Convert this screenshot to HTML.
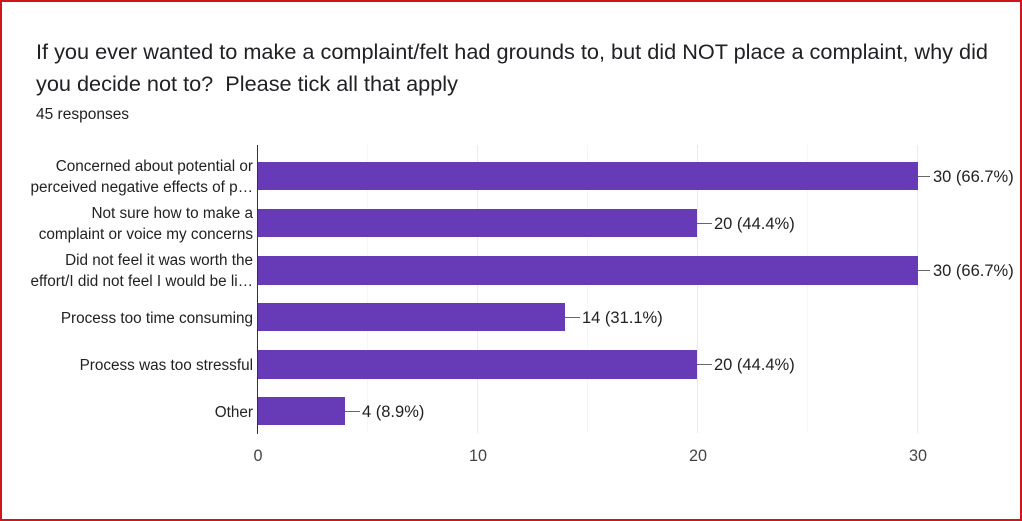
<!DOCTYPE html>
<html><head><style>
html,body{margin:0;padding:0;background:#fff}
svg{display:block}
text{font-family:"Liberation Sans",Arial,sans-serif}
</style></head><body>
<svg width="1022" height="521" viewBox="0 0 1022 521">
<rect x="1" y="1" width="1020" height="519" fill="#fff" stroke="#d0161b" stroke-width="2"/>
<text x="36" y="59" font-size="21.7" fill="#202124" xml:space="preserve">If you ever wanted to make a complaint/felt had grounds to, but did NOT place a complaint, why did</text>
<text x="36" y="91" font-size="21.7" fill="#202124" xml:space="preserve">you decide not to?  Please tick all that apply</text>
<text x="36" y="119" font-size="15.5" fill="#202124">45 responses</text>
<g stroke="#ebebeb" stroke-width="1">
<line x1="477.5" y1="145" x2="477.5" y2="433"/>
<line x1="697.5" y1="145" x2="697.5" y2="433"/>
<line x1="917.5" y1="145" x2="917.5" y2="433"/>
<line x1="367.5" y1="145" x2="367.5" y2="433" stroke="#f6f6f6"/>
<line x1="587.5" y1="145" x2="587.5" y2="433" stroke="#f6f6f6"/>
<line x1="807.5" y1="145" x2="807.5" y2="433" stroke="#f6f6f6"/>
</g>
<g fill="#673ab7">
<rect x="257" y="162" width="661" height="28"/>
<rect x="257" y="209" width="440" height="28"/>
<rect x="257" y="256" width="661" height="29"/>
<rect x="257" y="303" width="308" height="28"/>
<rect x="257" y="350" width="440" height="29"/>
<rect x="257" y="397" width="88" height="28"/>
</g>
<line x1="257.5" y1="145" x2="257.5" y2="434" stroke="#333" stroke-width="1"/>
<g stroke="#666" stroke-width="1">
<line x1="918" y1="176.5" x2="930" y2="176.5"/>
<line x1="697" y1="223.5" x2="712" y2="223.5"/>
<line x1="918" y1="270.5" x2="930" y2="270.5"/>
<line x1="565" y1="317.5" x2="580" y2="317.5"/>
<line x1="697" y1="364.5" x2="712" y2="364.5"/>
<line x1="345" y1="411.5" x2="360" y2="411.5"/>
</g>
<g font-size="16.5" fill="#222">
<text x="933" y="182">30 (66.7%)</text>
<text x="714" y="229">20 (44.4%)</text>
<text x="933" y="276">30 (66.7%)</text>
<text x="582" y="323">14 (31.1%)</text>
<text x="714" y="370">20 (44.4%)</text>
<text x="362" y="417">4 (8.9%)</text>
</g>
<g font-size="15.3" fill="#222" text-anchor="end">
<text x="253" y="171">Concerned about potential or</text>
<text x="253" y="192">perceived negative effects of p…</text>
<text x="253" y="218">Not sure how to make a</text>
<text x="253" y="239">complaint or voice my concerns</text>
<text x="253" y="265">Did not feel it was worth the</text>
<text x="253" y="286">effort/I did not feel I would be li…</text>
<text x="253" y="323">Process too time consuming</text>
<text x="253" y="370">Process was too stressful</text>
<text x="253" y="417">Other</text>
</g>
<g font-size="16.2" fill="#444" text-anchor="middle">
<text x="258" y="461">0</text>
<text x="478" y="461">10</text>
<text x="698" y="461">20</text>
<text x="918" y="461">30</text>
</g>
</svg>
</body></html>
